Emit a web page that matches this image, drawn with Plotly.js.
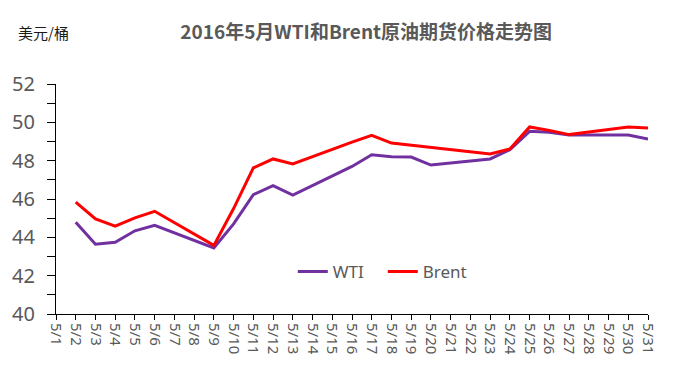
<!DOCTYPE html>
<html>
<head>
<meta charset="utf-8">
<script src="https://cdn.plot.ly/plotly-3.0.1.min.js"></script>
<style>html,body{margin:0;padding:0;background:#fff;}#chart{width:687px;height:380px;}</style>
</head>
<body>
<div id="chart"></div>
<script>
const dates = ["5/1","5/2","5/3","5/4","5/5","5/6","5/7","5/8","5/9","5/10","5/11","5/12","5/13","5/14","5/15","5/16","5/17","5/18","5/19","5/20","5/21","5/22","5/23","5/24","5/25","5/26","5/27","5/28","5/29","5/30","5/31"];
const wti = [null,44.79,43.64,43.74,44.34,44.63,null,null,43.45,44.70,46.23,46.70,46.21,null,null,47.70,48.31,48.21,48.19,47.77,null,null,48.09,48.57,49.53,49.48,49.34,null,null,49.34,49.13];
const brent = [null,45.84,44.96,44.58,45.02,45.36,null,null,43.58,45.50,47.62,48.09,47.83,null,null,48.97,49.32,48.92,48.80,48.68,null,null,48.35,48.61,49.76,49.58,49.36,null,null,49.76,49.70];
const yTicks = [40,41,42,43,44,45,46,47,48,49,50,51,52];
const yTickText = ["40","","42","","44","","46","","48","","50","","52"];
const seriesNames = ["WTI","Brent"];
const title = "2016年5月WTI和Brent原油期货价格走势图";
const unit = "美元/桶";

const traces = [
  {x: dates, y: wti, name: seriesNames[0], type: "scatter", mode: "lines", connectgaps: true,
   line: {color: "#7030A0", width: 3}},
  {x: dates, y: brent, name: seriesNames[1], type: "scatter", mode: "lines", connectgaps: true,
   line: {color: "#FF0000", width: 3}}
];
const layout = {
  width: 687, height: 380,
  margin: {l: 56, r: 39, t: 84, b: 66},
  paper_bgcolor: "#fff", plot_bgcolor: "#fff",
  font: {family: "Noto Sans, Noto Sans CJK SC, sans-serif", color: "#595959"},
  title: {text: "<b>" + title + "</b>", x: 0.524, xanchor: "center", xref: "paper", y: 0.914, yanchor: "middle",
          font: {family: "Noto Sans CJK SC, sans-serif", size: 19, color: "#595959"}},
  xaxis: {type: "category", range: [0, 30], showgrid: false, zeroline: false,
          showline: true, linecolor: "#000", linewidth: 1,
          ticks: "outside", ticklen: 5, tickcolor: "#000", tickwidth: 1,
          tickangle: 90, tickfont: {size: 15, color: "#595959", family: "Noto Sans, sans-serif"}},
  yaxis: {range: [40, 52], showgrid: false, zeroline: false,
          showline: true, linecolor: "#000", linewidth: 1,
          ticks: "outside", ticklen: 8, tickcolor: "#000", tickwidth: 1,
          ticklabelstandoff: 8,
          tickmode: "array", tickvals: yTicks, ticktext: yTickText,
          tickfont: {size: 20, color: "#595959", family: "Noto Sans, sans-serif"}},
  showlegend: true,
  legend: {orientation: "h", x: 0.40, xanchor: "left", y: 0.183, yanchor: "middle",
           entrywidth: 45, entrywidthmode: "pixels",
           bgcolor: "rgba(0,0,0,0)", font: {size: 17, color: "#595959", family: "Noto Sans, sans-serif"}},
  annotations: [{text: unit, xref: "paper", yref: "paper", x: -0.068, y: 1.226, xanchor: "left", yanchor: "middle",
                 showarrow: false, font: {size: 15, color: "#1a1a1a", family: "Noto Sans CJK SC, sans-serif"}}]
};
Plotly.newPlot("chart", traces, layout, {displayModeBar: false, staticPlot: true});
</script>
</body>
</html>
